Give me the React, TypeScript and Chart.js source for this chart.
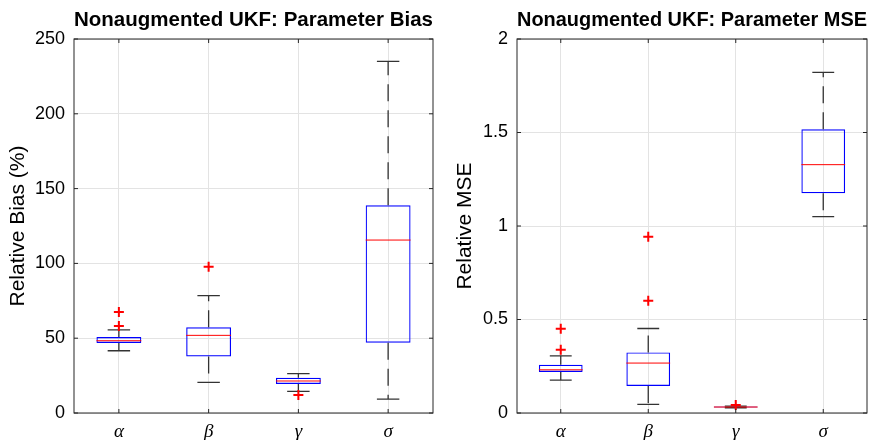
import React, { useEffect, useRef } from "react";
import { Chart, registerables } from "chart.js";

Chart.register(...registerables);

const categories = ["α", "β", "γ", "σ"];

// Left panel: relative bias (%)
const biasQ1 = [46.8, 37.8, 19.4, 47.0];
const biasMedian = [48.3, 51.9, 21.4, 115.6];
const biasQ3 = [50.8, 57.3, 23.6, 138.8];
const biasWhiskerLow = [41.6, 20.5, 14.5, 9.3];
const biasWhiskerHigh = [55.5, 78.4, 26.3, 235.0];
const biasOutlierCat = ["α", "α", "β", "γ"];
const biasOutlierVal = [67.5, 58.1, 97.8, 12.0];
const biasTicks = { min: 0, max: 250, step: 50 };

// Right panel: relative MSE
const mseQ1 = [0.219, 0.144, 0.03, 1.175];
const mseMedian = [0.231, 0.267, 0.032, 1.328];
const mseQ3 = [0.258, 0.324, 0.035, 1.517];
const mseWhiskerLow = [0.176, 0.046, 0.028, 1.05];
const mseWhiskerHigh = [0.306, 0.452, 0.037, 1.822];
const mseOutlierCat = ["α", "α", "β", "β", "γ"];
const mseOutlierVal = [0.45, 0.338, 0.942, 0.6, 0.043];
const mseTicks = { min: 0, max: 2, step: 0.5 };

const SANS = "'Liberation Sans', Arial, Helvetica, sans-serif";
const SERIF = "'Liberation Serif', 'Times New Roman', serif";
const AXIS = "#262626";

type PanelProps = {
  title: string;
  yTitle: string;
  q1: number[];
  med: number[];
  q3: number[];
  wLo: number[];
  wHi: number[];
  outCat: string[];
  outVal: number[];
  ticks: { min: number; max: number; step: number };
  yAxisWidth: number;
  rightPad: number;
  yTitlePad: number;
  left: number;
};

function Panel(p: PanelProps) {
  const ref = useRef<HTMLCanvasElement | null>(null);
  useEffect(() => {
    if (!ref.current) return;
    const boxPlugin = {
      id: "boxparts",
      afterDatasetDraw(chart: any, args: any) {
        if (args.meta.type !== "bar") return;
        const ctx = chart.ctx;
        const xs = chart.scales.x;
        const ys = chart.scales.y;
        const capHalf = (xs.width / categories.length) * 0.125;
        ctx.save();
        categories.forEach((c, i) => {
          const x = xs.getPixelForValue(i);
          const bw = args.meta.data[i].width / 2;
          // whiskers (dashed)
          ctx.strokeStyle = "#333333";
          ctx.lineWidth = 1.3;
          ctx.setLineDash([17, 9]);
          ctx.beginPath();
          ctx.moveTo(x, ys.getPixelForValue(p.q3[i]));
          ctx.lineTo(x, ys.getPixelForValue(p.wHi[i]));
          ctx.moveTo(x, ys.getPixelForValue(p.q1[i]));
          ctx.lineTo(x, ys.getPixelForValue(p.wLo[i]));
          ctx.stroke();
          // caps
          ctx.setLineDash([]);
          ctx.beginPath();
          const yh = ys.getPixelForValue(p.wHi[i]);
          const yl = ys.getPixelForValue(p.wLo[i]);
          ctx.moveTo(x - capHalf, yh);
          ctx.lineTo(x + capHalf, yh);
          ctx.moveTo(x - capHalf, yl);
          ctx.lineTo(x + capHalf, yl);
          ctx.stroke();
          // median
          ctx.strokeStyle = "#ff0000";
          ctx.lineWidth = 1;
          ctx.beginPath();
          const ym = ys.getPixelForValue(p.med[i]);
          ctx.moveTo(x - bw, ym);
          ctx.lineTo(x + bw, ym);
          ctx.stroke();
        });
        ctx.restore();
      },
      afterDraw(chart: any) {
        const ctx = chart.ctx;
        const a = chart.chartArea;
        const xs = chart.scales.x;
        const ys = chart.scales.y;
        ctx.save();
        ctx.strokeStyle = AXIS;
        ctx.lineWidth = 1;
        ctx.strokeRect(a.left, a.top, a.right - a.left, a.bottom - a.top);
        const t = 4;
        ctx.beginPath();
        categories.forEach((c, i) => {
          const x = xs.getPixelForValue(i);
          ctx.moveTo(x, a.bottom);
          ctx.lineTo(x, a.bottom - t);
          ctx.moveTo(x, a.top);
          ctx.lineTo(x, a.top + t);
        });
        ys.ticks.forEach((tk: any) => {
          const y = ys.getPixelForValue(tk.value);
          ctx.moveTo(a.left, y);
          ctx.lineTo(a.left + t, y);
          ctx.moveTo(a.right, y);
          ctx.lineTo(a.right - t, y);
        });
        ctx.stroke();
        ctx.restore();
      },
    };

    const chart = new Chart(ref.current, {
      type: "bar",
      data: {
        labels: categories,
        datasets: [
          {
            type: "line",
            data: p.outCat.map((c, i) => ({ x: c, y: p.outVal[i] })),
            showLine: false,
            pointStyle: "cross",
            pointRadius: 5,
            pointBorderWidth: 2,
            borderColor: "#ff0000",
            backgroundColor: "#ff0000",
            order: 0,
          } as any,
          {
            type: "bar",
            data: categories.map((c, i) => [p.q1[i], p.q3[i]]),
            backgroundColor: "rgba(0,0,0,0)",
            borderColor: "#0000ff",
            borderWidth: 1.2,
            borderSkipped: false,
            barPercentage: 0.5,
            categoryPercentage: 1,
            order: 1,
          } as any,
        ],
      },
      options: {
        animation: false,
        responsive: false,
        maintainAspectRatio: false,
        layout: { padding: { left: 0, right: p.rightPad, top: 0, bottom: 0 } },
        plugins: {
          legend: { display: false },
          tooltip: { enabled: false },
          title: {
            display: true,
            text: p.title,
            fullSize: false,
            color: "#000000",
            font: { family: SANS, size: 21, weight: "bold" },
            padding: { top: 7.4, bottom: 6.4 },
          },
        },
        scales: {
          x: {
            type: "category",
            offset: true,
            grid: { offset: false, color: "#e3e3e3", drawTicks: false },
            border: { display: false },
            ticks: {
              color: "#000000",
              padding: 8,
              font: { family: SERIF, size: 19, style: "italic" },
            },
            afterFit(s: any) {
              s.height = 27;
            },
          },
          y: {
            type: "linear",
            min: p.ticks.min,
            max: p.ticks.max,
            grid: { color: "#e3e3e3", drawTicks: false },
            border: { display: false },
            ticks: {
              stepSize: p.ticks.step,
              color: "#000000",
              padding: 9,
              font: { family: SANS, size: 18 },
              callback: (v: any) => String(Number(v)),
            },
            title: {
              display: true,
              text: p.yTitle,
              color: "#000000",
              font: { family: SANS, size: 21 },
              padding: { top: p.yTitlePad, bottom: 0 },
            },
            afterFit(s: any) {
              s.width = p.yAxisWidth;
            },
          },
        },
      },
      plugins: [boxPlugin],
    } as any);
    return () => chart.destroy();
  }, []);
  return (
    <div style={{ position: "absolute", left: p.left, top: 0, width: 440, height: 440 }}>
      <canvas ref={ref} width={440} height={440} style={{ width: 440, height: 440 }} />
    </div>
  );
}

export default function App() {
  return (
    <div style={{ position: "absolute", left: 0, top: 0, width: 880, height: 440, background: "#ffffff" }}>
      <Panel
        title="Nonaugmented UKF: Parameter Bias"
        yTitle="Relative Bias (%)"
        q1={biasQ1}
        med={biasMedian}
        q3={biasQ3}
        wLo={biasWhiskerLow}
        wHi={biasWhiskerHigh}
        outCat={biasOutlierCat}
        outVal={biasOutlierVal}
        ticks={biasTicks}
        yAxisWidth={74}
        rightPad={6}
        yTitlePad={5.4}
        left={0}
      />
      <Panel
        title="Nonaugmented UKF: Parameter MSE"
        yTitle="Relative MSE"
        q1={mseQ1}
        med={mseMedian}
        q3={mseQ3}
        wLo={mseWhiskerLow}
        wHi={mseWhiskerHigh}
        outCat={mseOutlierCat}
        outVal={mseOutlierVal}
        ticks={mseTicks}
        yAxisWidth={77}
        rightPad={13}
        yTitlePad={12.4}
        left={440}
      />
    </div>
  );
}
